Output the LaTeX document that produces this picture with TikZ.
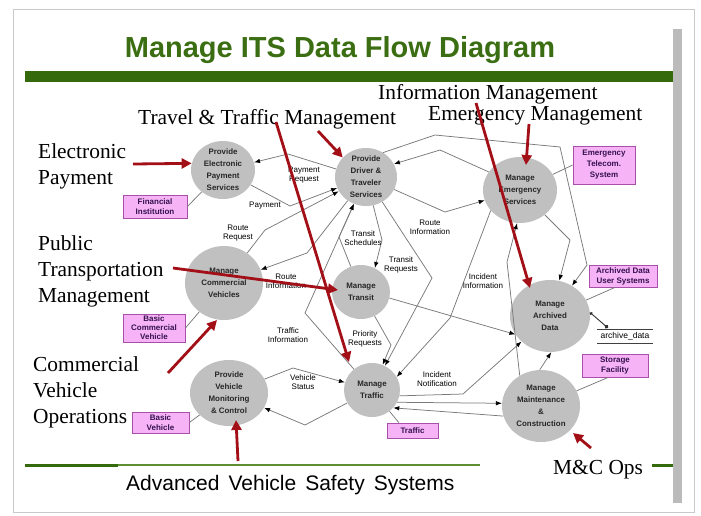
\documentclass[tikz,border=0pt]{standalone}
\usepackage{fontspec}
\setmainfont{Liberation Serif}
\newfontfamily\arialfont{Liberation Sans}
\usetikzlibrary{shapes.geometric,arrows.meta}

\definecolor{slidegreen}{HTML}{3B6E12}
\definecolor{bargreen}{HTML}{356A0C}
\definecolor{rulegreen}{HTML}{5E8F33}
\definecolor{bubblegray}{HTML}{C0C0C0}
\definecolor{flowgray}{HTML}{7A7A7A}
\definecolor{termfill}{HTML}{F6B4F6}
\definecolor{termline}{HTML}{A850A8}
\definecolor{termtext}{HTML}{35104F}
\definecolor{arrowred}{HTML}{A30F16}
\definecolor{framegray}{HTML}{C9C9C9}
\definecolor{sidebar}{HTML}{BBBBBB}

\begin{document}
\begin{tikzpicture}[x=1pt,y=-1pt,
  bubble/.style={ellipse, fill=bubblegray, draw=none, inner sep=0pt},
  bubbletext/.style={align=center, inner sep=0pt, text=black!85,
    font=\arialfont\bfseries\fontsize{7.9}{12}\selectfont},
  term/.style={rectangle, fill=termfill, draw=termline, line width=0.8pt,
    inner sep=0pt, align=center, text=termtext,
    font=\arialfont\bfseries\fontsize{8}{10}\selectfont},
  flow/.style={draw=flowgray, line width=0.75pt,
    -{Latex[length=6pt,width=4.5pt,color=black]}},
  link/.style={draw=flowgray, line width=0.75pt},
  flowlabel/.style={align=center, inner sep=0pt,
    font=\arialfont\fontsize{8}{8.6}\selectfont},
  topic/.style={inner sep=0pt, anchor=base west, font=\fontsize{21.4}{26}\selectfont},
  pointer/.style={draw=arrowred, line width=2.8pt,
    -{Triangle[length=10pt,width=10pt]}},
]
\useasboundingbox (0,0) rectangle (701,515);

% slide frame
\fill[white] (0,0) rectangle (701,515);
\draw[framegray, line width=1pt] (13,9) rectangle (694,512);
\fill[sidebar] (673,29) rectangle (682,503);

% title and rules
\node[font=\arialfont\bfseries\fontsize{29}{34}\selectfont, text=slidegreen,
  anchor=base, inner sep=0pt] (title) at (340,57) {Manage ITS Data Flow Diagram};
\fill[bargreen] (25,71) rectangle (673,82);
\draw[rulegreen, line width=1.5pt] (25,465) -- (480,465);
\draw[bargreen, line width=3pt] (25,465) -- (118,465);
\draw[bargreen, line width=3pt] (652,465) -- (673,465);
\node[font=\arialfont\fontsize{21}{25}\selectfont, anchor=base west, inner sep=0pt]
  (avss) at (126,490) {Advanced\hspace{9pt}Vehicle\hspace{9pt}Safety\hspace{9pt}Systems};

% functional areas
\node[topic] (tTravel) at (138,124) {Travel \& Traffic Management};
\node[topic] (tInfo) at (378,99) {Information Management};
\node[topic] (tEmer) at (428,120) {Emergency Management};
\node[topic] (tElec1) at (38,158) {Electronic};
\node[topic] (tElec2) at (38,184) {Payment};
\node[topic] (tPub1) at (38,250) {Public};
\node[topic] (tPub2) at (38,276) {Transportation};
\node[topic] (tPub3) at (38,302) {Management};
\node[topic] (tCvo1) at (33,371) {Commercial};
\node[topic] (tCvo2) at (33,397) {Vehicle};
\node[topic] (tCvo3) at (33,423) {Operations};
\node[topic] (tMC) at (553,474) {M\&C Ops};

% processes
\node[bubble, minimum width=64, minimum height=58] (PEPS) at (223,170) {};
\node[bubble, minimum width=62, minimum height=58] (PDTS) at (366,177) {};
\node[bubble, minimum width=74, minimum height=66] (MES) at (520,190) {};
\node[bubble, minimum width=78, minimum height=74] (MCV) at (224,283) {};
\node[bubble, minimum width=58, minimum height=54] (MT) at (361,292) {};
\node[bubble, minimum width=80, minimum height=72] (MAD) at (550,316) {};
\node[bubble, minimum width=78, minimum height=66] (PVMC) at (229,393) {};
\node[bubble, minimum width=56, minimum height=54] (MTr) at (372,390) {};
\node[bubble, minimum width=78, minimum height=72] (MMC) at (541,406) {};

\node[bubbletext] (PEPSt) at (PEPS) {Provide\\Electronic\\Payment\\Services};
\node[bubbletext] (PDTSt) at (PDTS) {Provide\\Driver \&\\Traveler\\Services};
\node[bubbletext] (MESt) at (MES) {Manage\\Emergency\\Services};
\node[bubbletext] (MCVt) at (MCV) {Manage\\Commercial\\Vehicles};
\node[bubbletext] (MTt) at (MT) {Manage\\Transit};
\node[bubbletext] (MADt) at (MAD) {Manage\\Archived\\Data};
\node[bubbletext] (PVMCt) at (PVMC) {Provide\\Vehicle\\Monitoring\\\& Control};
\node[bubbletext] (MTrt) at (MTr) {Manage\\Traffic};
\node[bubbletext] (MMCt) at (MMC) {Manage\\Maintenance\\\&\\Construction};

% terminators
\node[term, minimum width=64, minimum height=23] (FinInst) at (155,206.5) {Financial\\Institution};
\node[term, minimum width=62, minimum height=38, font=\arialfont\bfseries\fontsize{8}{11}\selectfont]
  (EmTel) at (604,165) {Emergency\\Telecom.\\System};
\node[term, minimum width=68, minimum height=22] (ADUS) at (623,276) {Archived Data\\User Systems};
\node[term, minimum width=66, minimum height=23] (Storage) at (615,365.5) {Storage\\Facility};
\node[term, minimum width=62, minimum height=28, font=\arialfont\bfseries\fontsize{8}{9}\selectfont]
  (BCV) at (154,328) {Basic\\Commercial\\Vehicle};
\node[term, minimum width=57, minimum height=21] (BV) at (160.5,422.5) {Basic\\Vehicle};
\node[term, minimum width=51, minimum height=15] (TrafficT) at (412.5,430.5) {Traffic};

% data store
\coordinate (adTL) at (597,329);
\coordinate (adTR) at (653,329);
\coordinate (adBL) at (597,343);
\coordinate (adBR) at (653,343);
\draw[black!75, line width=0.8pt] (adTL) -- (adTR);
\draw[black!75, line width=0.8pt] (adBL) -- (adBR);
\node[font=\arialfont\fontsize{8.5}{10}\selectfont, inner sep=0pt] (adText) at (625,336) {archive\_data};
\coordinate (adDot) at (608,328);

% terminator links
\draw[link] (FinInst.east) -- (PEPS);
\draw[link] (EmTel.west) -- (MES);
\draw[link] (ADUS.235) -- (MAD);
\draw[link] (Storage.240) -- (MMC);
\draw[link] (BCV.east) -- (MCV);
\draw[link] (BV.east) -- (PVMC);
\draw[link] (TrafficT.150) -- (MTr);

% data flows
\draw[flow] (PDTS.165) -- (288,154) -- (PEPS);
\draw[flow] (PEPS) -- (290,206) -- (PDTS);
\draw[flow] (MCV) -- (265,230) -- (PDTS);
\draw[flow] (PDTS) -- (307,253) -- (MCV);
\draw[flow] (MT) -- (339,237) -- (PDTS);
\draw[flow] (MTr) -- (305,313) -- (PDTS);
\draw[flow] (PDTS) -- (382,240) -- (MT.60);
\draw[flow] (PDTS) -- (432,278) -- (MTr);
\draw[flow] (MT) -- (391,345) -- (MTr);
\draw[flow] (PDTS) -- (445,212) -- (MES);
\draw[flow] (PDTS.55) -- (435,135) -- (560,147) -- (587,265) -- (MAD);
\draw[flow] (MES.150) -- (440,150) -- (PDTS.25);
\draw[flow] (MES) -- (570,240) -- (MAD);
\draw[flow] (MT.-12) -- (MAD.208);
\draw[flow] (MTr.-12) -- (463,394) -- (MAD);
\draw[flow] (MES.215) -- (450,318) -- (MTr.28);
\draw[flow] (MMC.125) -- (507,262) -- (MES.265);
\draw[flow] (MTr.-26) -- (MMC.176);
\draw[flow] (MMC.195) -- (MTr.-40);
\draw[flow] (MMC.92) -- (MAD.-88);
\draw[flow] (PVMC) -- (293,368) -- (MTr);
\draw[flow] (MTr) -- (305,425) -- (PVMC);
\draw[draw=black!80, line width=0.9pt, {Circle[length=3pt]}-{Circle[length=4pt]}] (MAD.5) -- (adDot);

% flow labels
\node[flowlabel] (lPayReq) at (304,175) {Payment\\Request};
\node[flowlabel] (lPay) at (265,206) {Payment};
\node[flowlabel] (lRouteReq) at (238,233) {Route\\Request};
\node[flowlabel] (lRouteInfoA) at (286,281) {Route\\Information};
\node[flowlabel] (lTrSch) at (363,238) {Transit\\Schedules};
\node[flowlabel] (lTrReq) at (401,265) {Transit\\Requests};
\node[flowlabel] (lRouteInfoB) at (430,227) {Route\\Information};
\node[flowlabel] (lTrafInfo) at (288,335) {Traffic\\Information};
\node[flowlabel] (lPrio) at (365,339) {Priority\\Requests};
\node[flowlabel] (lIncInfo) at (483,281) {Incident\\Information};
\node[flowlabel] (lIncNot) at (437,379) {Incident\\Notification};
\node[flowlabel] (lVehStat) at (303,382) {Vehicle\\Status};

% red pointers from the functional areas
\coordinate (pElecS) at (133,164);
\coordinate (pTravS) at (318,131);
\coordinate (pTrav2S) at (276,122);
\coordinate (pTrav2E) at (349,362);
\coordinate (pInfoS) at (476,103);
\coordinate (pInfoE) at (530,288);
\coordinate (pEmerS) at (529,124);
\coordinate (pEmerE) at (526,165);
\coordinate (pPubS) at (173,268);
\coordinate (pPubE) at (338,290);
\coordinate (pCvoS) at (168,373);
\coordinate (pCvoE) at (217,320);
\coordinate (pAvsS) at (238,461);
\coordinate (pAvsE) at (236,420);
\coordinate (pMcS) at (591,448);
\coordinate (pMcE) at (573,433);

\draw[pointer] (pElecS) -- (PEPS.168);
\draw[pointer] (pTravS) -- (PDTS.140);
\draw[pointer] (pTrav2S) -- (pTrav2E);
\draw[pointer] (pInfoS) -- (pInfoE);
\draw[pointer] (pEmerS) -- (pEmerE);
\draw[pointer] (pPubS) -- (pPubE);
\draw[pointer] (pCvoS) -- (pCvoE);
\draw[pointer] (pAvsS) -- (pAvsE);
\draw[pointer] (pMcS) -- (pMcE);
\end{tikzpicture}
\end{document}
